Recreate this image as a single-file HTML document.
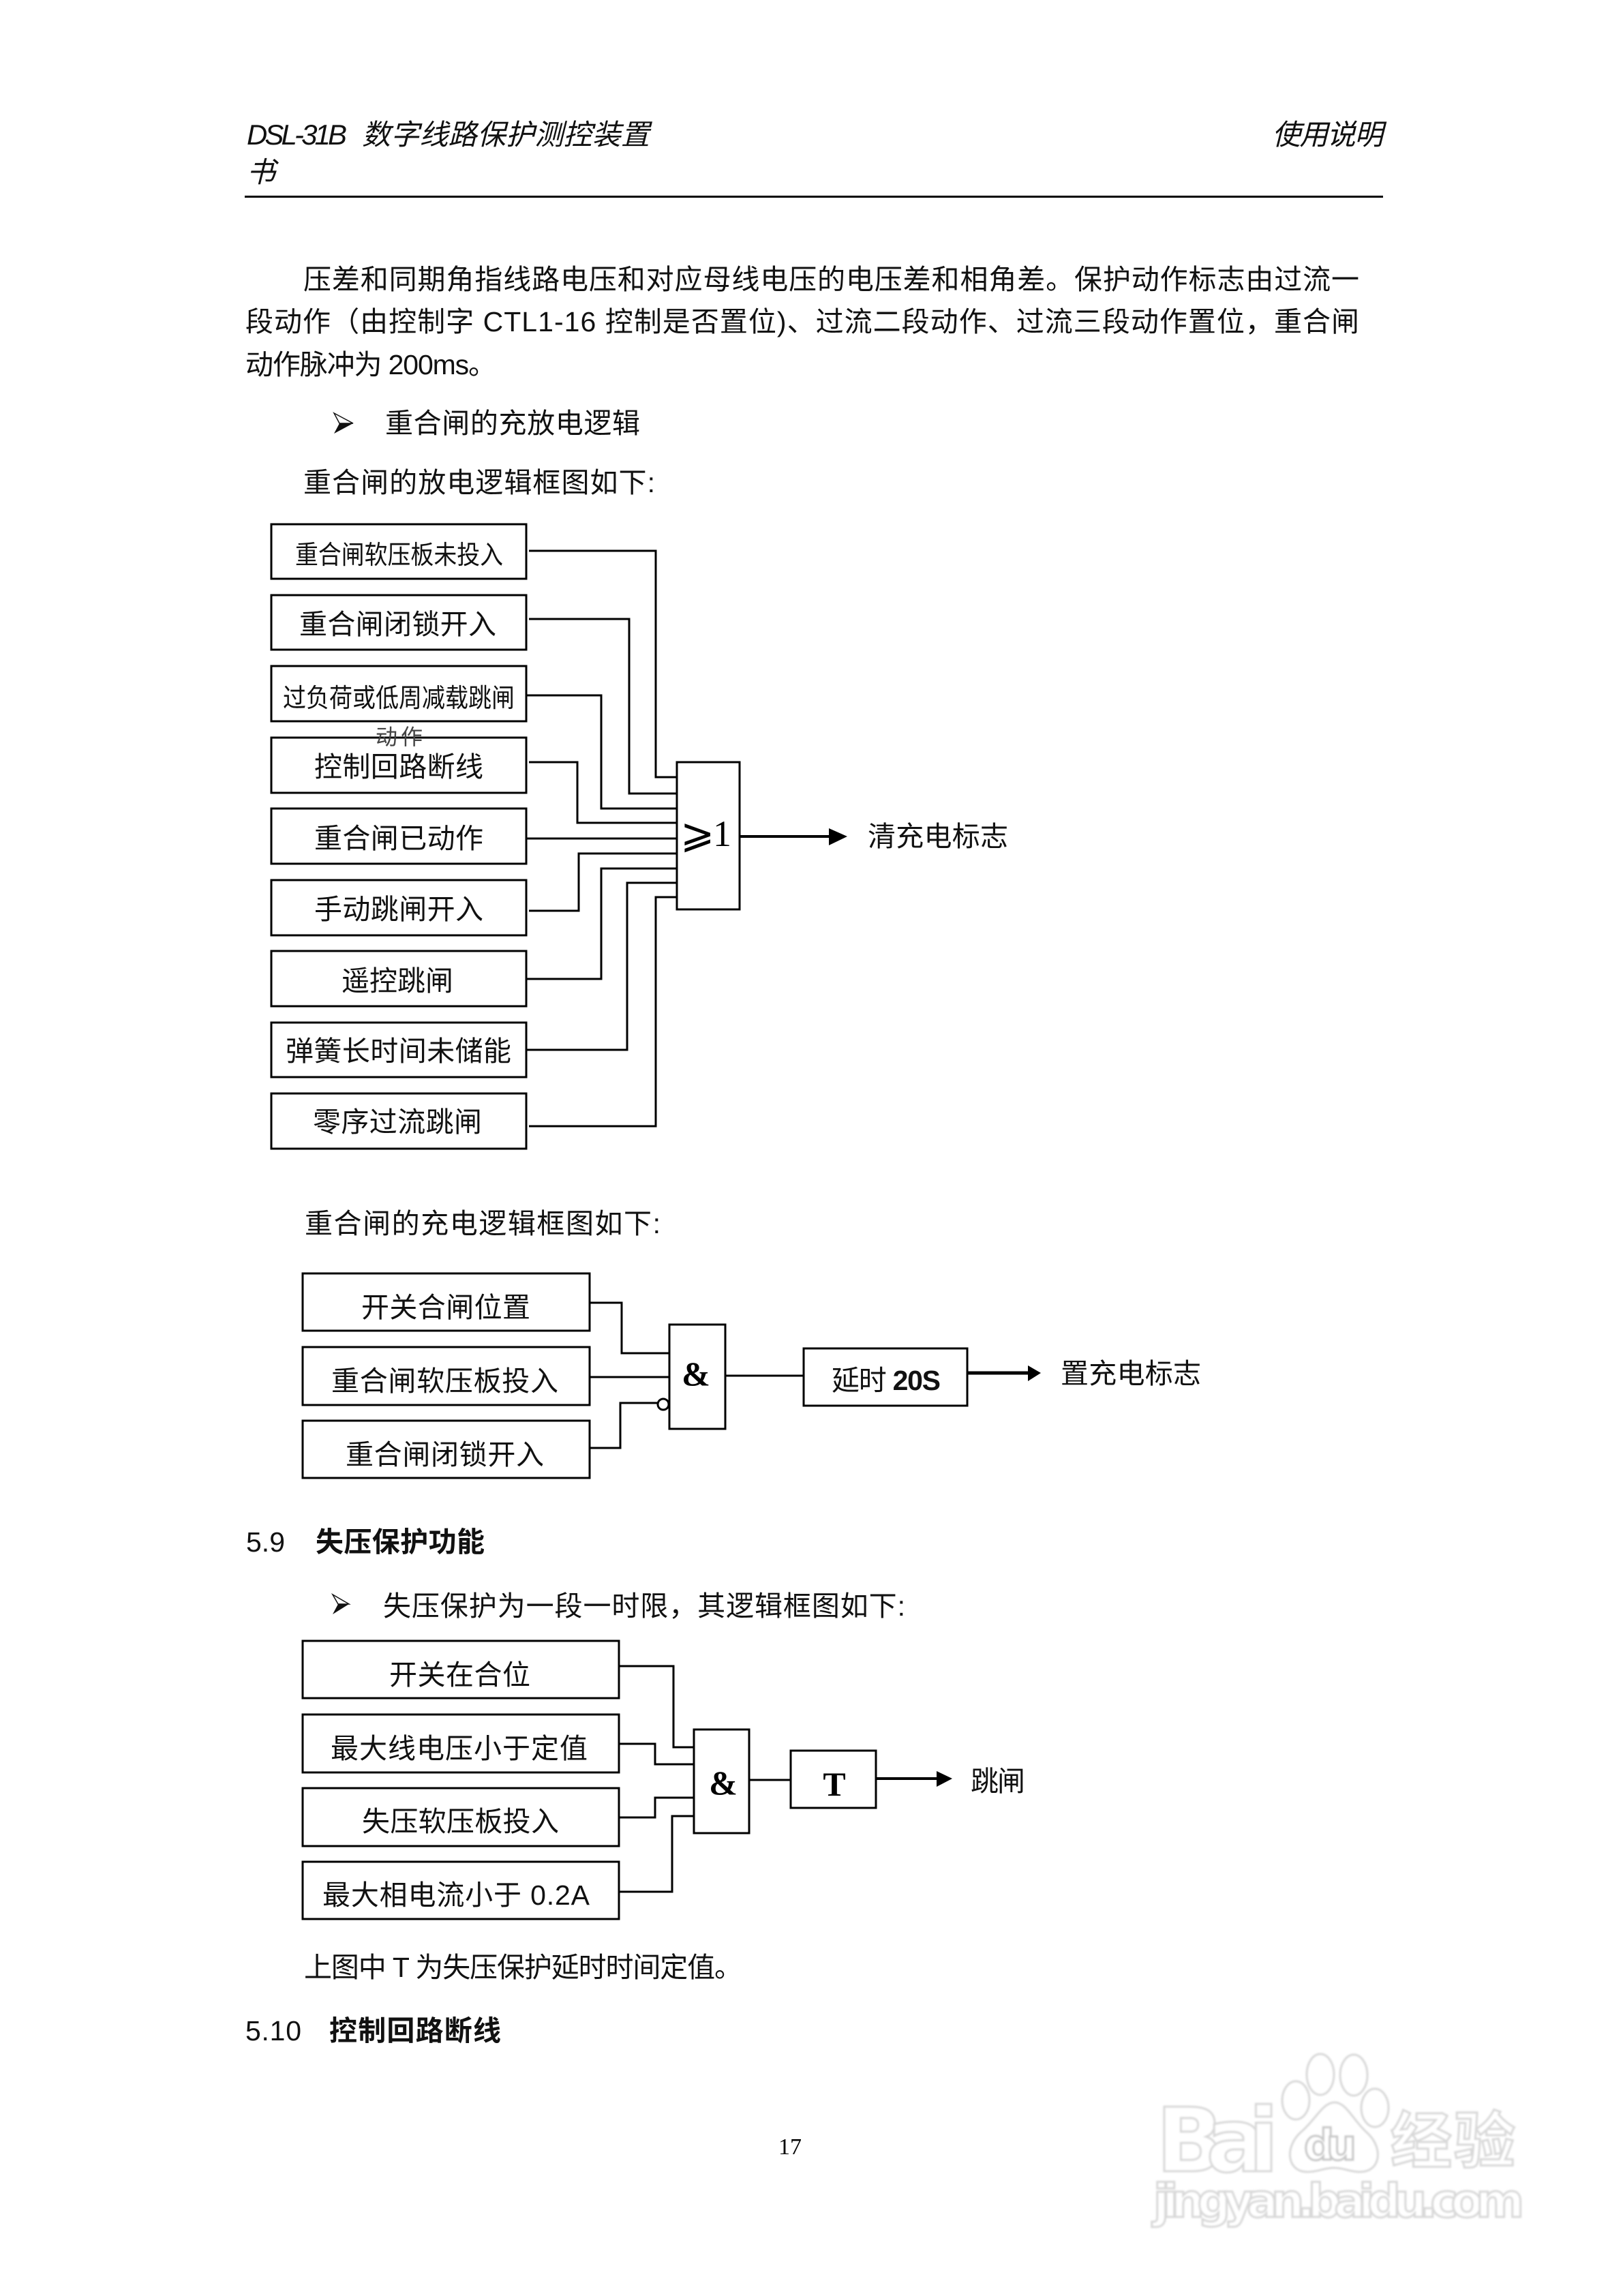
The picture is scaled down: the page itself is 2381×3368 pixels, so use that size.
<!DOCTYPE html>
<html lang="zh"><head><meta charset="utf-8"><title>DSL-31B</title>
<style>
html,body{margin:0;padding:0;background:#fff;width:2381px;height:3368px;overflow:hidden}
svg{display:block}
text{font-family:"Liberation Sans","Noto Sans CJK SC",sans-serif;font-size:41px;fill:#111}
.b{font-size:38px}
.s{font-family:"Liberation Serif","Noto Serif CJK SC",serif;font-weight:bold;fill:#000}
.h{font-weight:bold}
.i{font-style:italic;font-size:42px}
.box{fill:none;stroke:#000;stroke-width:3}
.ln{fill:none;stroke:#000;stroke-width:3}
.th{fill:none;stroke:#000;stroke-width:4}
.wm{fill:#fff;stroke:#d8d8d8;stroke-width:3;font-weight:bold;font-family:"DejaVu Sans","Noto Sans CJK SC",sans-serif}
</style></head><body>
<svg width="2381" height="3368" viewBox="0 0 2381 3368" xmlns="http://www.w3.org/2000/svg">
<rect width="2381" height="3368" fill="#fff"/>

<!-- Header -->
<text class="i" x="362" y="212" textLength="147">DSL-31B</text>
<text class="i" x="531" y="212" textLength="422">数字线路保护测控装置</text>
<text class="i" x="1866" y="212" textLength="163">使用说明</text>
<text class="i" x="362" y="267">书</text>
<rect x="359" y="287" width="1670" height="3" fill="#000"/>

<!-- Body -->
<text x="445" y="424" textLength="1549">压差和同期角指线路电压和对应母线电压的电压差和相角差。保护动作标志由过流一</text>
<text x="360" y="486" textLength="1634">段动作（由控制字 CTL1-16 控制是否置位)、过流二段动作、过流三段动作置位，重合闸</text>
<text x="360" y="549" textLength="368">动作脉冲为 200ms。</text>
<polygon points="490,606 518,621 490,636 498,621" fill="#111"/>
<polygon points="490,606 518,621 498,621" fill="#fff" stroke="#111" stroke-width="1.5"/>
<text x="565" y="635" textLength="374">重合闸的充放电逻辑</text>
<text x="445" y="722" textLength="516">重合闸的放电逻辑框图如下:</text>

<!-- Discharge diagram -->
<rect class="box" x="398" y="769" width="374" height="80"/>
<rect class="box" x="398" y="873" width="374" height="80"/>
<rect class="box" x="398" y="977" width="374" height="81"/>
<rect class="box" x="398" y="1082" width="374" height="81"/>
<rect class="box" x="398" y="1186" width="374" height="81"/>
<rect class="box" x="398" y="1291" width="374" height="81"/>
<rect class="box" x="398" y="1395" width="374" height="81"/>
<rect class="box" x="398" y="1500" width="374" height="80"/>
<rect class="box" x="398" y="1604" width="374" height="81"/>
<rect class="box" x="993" y="1118" width="92" height="216"/>
<text class="b" x="433" y="827" textLength="305" lengthAdjust="spacingAndGlyphs">重合闸软压板未投入</text>
<text x="439" y="930" textLength="289">重合闸闭锁开入</text>
<text class="b" x="415" y="1037" textLength="340" lengthAdjust="spacingAndGlyphs">过负荷或低周减载跳闸</text>
<text x="551" y="1092" textLength="69" style="font-size:32px;fill:#444">动作</text>
<text x="461" y="1139" textLength="248">控制回路断线</text>
<text x="461" y="1244" textLength="248">重合闸已动作</text>
<text x="461" y="1348" textLength="248">手动跳闸开入</text>
<text x="501" y="1453" textLength="164">遥控跳闸</text>
<text x="419" y="1556" textLength="331">弹簧长时间未储能</text>
<text x="459" y="1660" textLength="248">零序过流跳闸</text>
<path class="ln" d="M776 808H962V1140H993M776 908H923V1164H993M772 1020H882V1186H993M776 1118H847V1207H993M772 1230H993M776 1336H849V1252H993M772 1436H882V1274H993M772 1540H920V1295H993M776 1652H962V1316H993"/>
<text x="998" y="1243" style="font-family:'DejaVu Sans','Liberation Serif',serif;font-size:60px;fill:#000">⩾</text>
<text x="1046" y="1241" style="font-family:'Liberation Serif',serif;font-size:54px;fill:#000">1</text>
<path class="th" d="M1085 1227H1220"/>
<polygon points="1216,1215 1243,1227 1216,1240" fill="#000"/>
<text x="1273" y="1241" textLength="206">清充电标志</text>

<g transform="translate(0,-10)">
<text x="447" y="1819" textLength="522">重合闸的充电逻辑框图如下:</text>

<!-- Charge diagram -->
<rect class="box" x="444" y="1878" width="421" height="84"/>
<rect class="box" x="444" y="1986" width="421" height="85"/>
<rect class="box" x="444" y="2094" width="421" height="84"/>
<rect class="box" x="982" y="1953" width="82" height="153"/>
<rect class="box" x="1179" y="1988" width="240" height="84"/>
<text x="530" y="1942" textLength="248">开关合闸位置</text>
<text x="486" y="2050" textLength="333">重合闸软压板投入</text>
<text x="507" y="2158" textLength="291">重合闸闭锁开入</text>
<path class="ln" d="M865 1921H912V1995H982M865 2030H982M865 2134H910V2068H965M1064 2028H1179"/>
<circle cx="973" cy="2070" r="8" fill="#fff" stroke="#000" stroke-width="3"/>
<text class="s" x="1021" y="2042" text-anchor="middle" style="font-size:50px">&amp;</text>
<text x="1220" y="2049" textLength="160"><tspan>延时 </tspan><tspan style="font-weight:bold">20S</tspan></text>
<path class="th" d="M1419 2024H1512" style="stroke-width:5"/>
<polygon points="1508,2013 1527,2024 1508,2036" fill="#000"/>
<text x="1556" y="2039" textLength="206">置充电标志</text>

<!-- 5.9 -->
<text x="361" y="2286">5.9</text>
<text class="h" x="463" y="2286" textLength="248">失压保护功能</text>
<polygon points="488,2349 512,2363 488,2378 496,2363" fill="#111"/>
<polygon points="488,2349 512,2363 496,2363" fill="#fff" stroke="#111" stroke-width="1.5"/>
<text x="562" y="2380" textLength="766">失压保护为一段一时限，其逻辑框图如下:</text>

<!-- Undervoltage diagram -->
<rect class="box" x="444" y="2417" width="464" height="84"/>
<rect class="box" x="444" y="2525" width="464" height="85"/>
<rect class="box" x="444" y="2633" width="464" height="85"/>
<rect class="box" x="444" y="2741" width="464" height="84"/>
<rect class="box" x="1018" y="2547" width="81" height="152"/>
<rect class="box" x="1160" y="2578" width="125" height="84"/>
<text x="571" y="2481" textLength="207">开关在合位</text>
<text x="485" y="2589" textLength="377">最大线电压小于定值</text>
<text x="531" y="2696" textLength="289">失压软压板投入</text>
<text x="473" y="2804" textLength="392">最大相电流小于 0.2A</text>
<path class="ln" d="M908 2454H988V2573H1018M908 2568H961V2598H1018M908 2676H961V2647H1018M908 2785H986V2674H1018M1099 2621H1160"/>
<text class="s" x="1061" y="2642" text-anchor="middle" style="font-size:50px">&amp;</text>
<text class="s" x="1224" y="2644" text-anchor="middle" style="font-size:50px">T</text>
<path class="th" d="M1286 2619H1378"/>
<polygon points="1374,2608 1397,2619 1374,2631" fill="#000"/>
<text x="1424" y="2637" textLength="80">跳闸</text>

<text x="446" y="2910" textLength="643">上图中 T 为失压保护延时时间定值。</text>
<text x="360" y="3003" textLength="82">5.10</text>
<text class="h" x="483" y="3003" textLength="252">控制回路断线</text>
</g>

<!-- Page number -->
<text x="1159" y="3160" text-anchor="middle" style="font-family:'Liberation Serif',serif;font-size:34px;fill:#000">17</text>

<!-- Watermark -->
<g style="filter:blur(1.2px)">
<ellipse class="wm" cx="1937" cy="3043" rx="20" ry="30"/>
<ellipse class="wm" cx="1986" cy="3044" rx="20" ry="30"/>
<ellipse class="wm" cx="1901" cy="3081" rx="20" ry="28"/>
<ellipse class="wm" cx="2017" cy="3092" rx="20" ry="28"/>
<path class="wm" d="M1958 3084C1975 3084 1985 3110 2005 3128C2030 3150 2026 3186 1995 3186C1980 3186 1972 3180 1957 3180C1942 3180 1934 3186 1918 3186C1888 3186 1884 3150 1908 3128C1930 3110 1940 3084 1958 3084Z"/>
<text class="wm" x="1696" y="3185" textLength="180" style="font-size:130px">Bai</text>
<text class="wm" x="1913" y="3168" textLength="77" style="font-size:62px;stroke:#c8c8c8">du</text>
<text class="wm" x="2040" y="3172" textLength="183" style="font-size:90px">经验</text>
<text class="wm" x="1692" y="3252" textLength="544" style="font-size:68px">jingyan.baidu.com</text>
</g>
</svg>
</body></html>
